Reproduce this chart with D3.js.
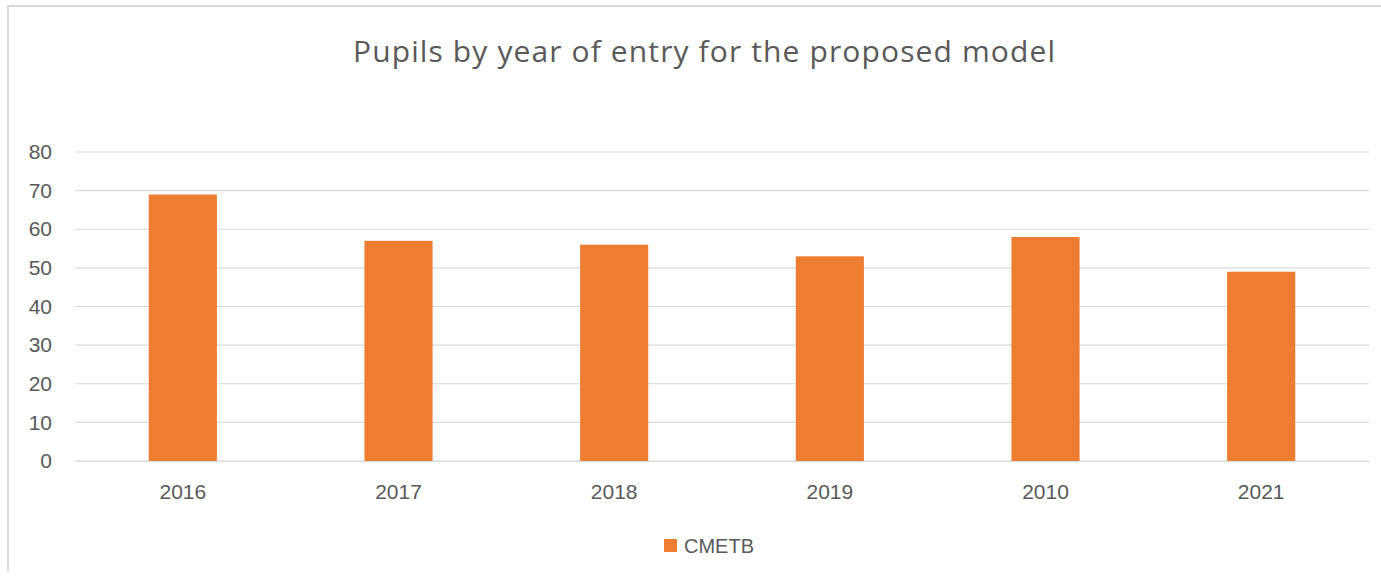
<!DOCTYPE html>
<html>
<head>
<meta charset="utf-8">
<script src="https://cdn.jsdelivr.net/npm/d3@7"></script>
<style>
  body { margin: 0; background: #fff; }
  text { font-family: "Liberation Sans", "DejaVu Sans", sans-serif; }
</style>
</head>
<body>
<div id="chart"></div>
<script>
// data
const years = ["2016", "2017", "2018", "2019", "2010", "2021"]
const pupils = [69, 57, 56, 53, 58, 49]
const yTicks = [0, 10, 20, 30, 40, 50, 60, 70, 80]
const seriesName = "CMETB"
const title = "Pupils by year of entry for the proposed model"

const width = 1381, height = 581
const margin = { top: 152, right: 12, bottom: 120, left: 75 }
const barColor = "#ED7D31"
const textColor = "#595959"

const svg = d3.select("#chart").append("svg")
  .attr("width", width)
  .attr("height", height)

// chart border (only top and left are visible in the crop)
svg.append("path")
  .attr("d", `M8,572 L8,6 L${width},6`)
  .attr("fill", "none")
  .attr("stroke", "#d9d9d9")
  .attr("stroke-width", 2)

const x = d3.scaleBand()
  .domain(years)
  .range([margin.left, width - margin.right])
  .paddingInner(0.684)
  .paddingOuter(0.342)

const y = d3.scaleLinear()
  .domain([0, 80])
  .range([height - margin.bottom, margin.top])

// Grid
svg.append("g")
  .selectAll("line")
  .data(yTicks)
  .join("line")
  .attr("x1", margin.left)
  .attr("x2", width - margin.right)
  .attr("y1", d => y(d))
  .attr("y2", d => y(d))
  .attr("stroke", "#d9d9d9")
  .attr("stroke-width", 1.2)

// Barras
svg.append("g")
  .selectAll("rect")
  .data(pupils)
  .join("rect")
  .attr("x", (d, i) => x(years[i]))
  .attr("y", d => y(d))
  .attr("width", x.bandwidth())
  .attr("height", d => y(0) - y(d))
  .attr("fill", barColor)

// Eje Y
const yAxis = svg.append("g")
  .attr("transform", `translate(${margin.left - 23},0)`)
  .call(d3.axisLeft(y).tickValues(yTicks).tickSize(0).tickPadding(0))
yAxis.select(".domain").remove()
yAxis.selectAll("text")
  .attr("fill", textColor)
  .style("font-size", "21px")

// Eje X
const xAxis = svg.append("g")
  .attr("transform", `translate(0,${y(0)})`)
  .call(d3.axisBottom(x).tickSize(0).tickPadding(23))
xAxis.select(".domain").attr("stroke", "#d9d9d9").attr("stroke-width", 1.2)
xAxis.selectAll("text")
  .attr("fill", textColor)
  .style("font-size", "21px")

// Título
svg.append("text")
  .attr("x", 704)
  .attr("y", 62)
  .attr("text-anchor", "middle")
  .attr("fill", textColor)
  .attr("textLength", 702)
  .attr("lengthAdjust", "spacing")
  .style("font-family", "'Open Sans', 'Liberation Sans', sans-serif")
  .style("font-size", "30px")
  .text(title)

// Leyenda
const legend = svg.append("g").attr("transform", "translate(664,539)")
legend.append("rect")
  .attr("width", 13)
  .attr("height", 13)
  .attr("fill", barColor)
legend.append("text")
  .attr("x", 20)
  .attr("y", 13.5)
  .attr("fill", textColor)
  .style("font-size", "20px")
  .text(seriesName)
</script>
</body>
</html>
